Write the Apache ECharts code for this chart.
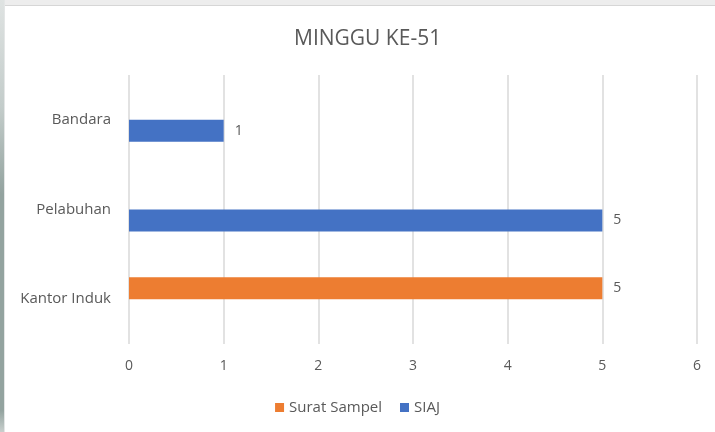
<!DOCTYPE html>
<html style="height: 100%">
	<head>
		<meta charset="utf-8">
		<style>
			body { margin: 0; background: #fff; }
			#container { position: absolute; left: 0; top: 0; width: 715px; height: 432px; }
			.strip-top { position: absolute; left: 0; top: 0; width: 715px; height: 5px; background: #ededed; border-bottom: 1px solid #d6d6d6; }
			.strip-left { position: absolute; left: 0; top: 0; width: 4px; height: 432px; background: linear-gradient(#dfe3e2, #c3ccca 25%, #93a39f 45%, #93a39f 95%, #c8cfcd); border-right: 1px solid #e4e6e6; }
		</style>
	</head>
	<body>
		<div id="container"></div>
		<div class="strip-top"></div>
		<div class="strip-left"></div>
		<script src="https://cdn.jsdelivr.net/npm/echarts@6/dist/echarts.min.js"></script>
		<script type="text/javascript">
			// data
			var categories = ['Kantor Induk', 'Pelabuhan', 'Bandara'];
			var suratSampel = [5, null, null];
			var siaj = [null, 5, 1];
			var xTicks = [0, 1, 2, 3, 4, 5, 6];

			var textColor = '#595959';
			var font = '"Open Sans", "Noto Sans", sans-serif';

			var myChart = echarts.init(document.getElementById('container'));
			var labelStyle = {
				show: true,
				position: 'right',
				distance: 11,
				color: textColor,
				fontSize: 14,
				fontFamily: font
			};

			var option = {
				backgroundColor: '#fff',
				animation: false,
				title: {
					text: 'MINGGU KE-51',
					left: 289,
					top: 24,
					textStyle: {
						color: textColor,
						fontSize: 21,
						fontWeight: 'normal',
						fontFamily: font
					}
				},
				legend: {
					bottom: 12,
					left: 'center',
					data: ['Surat Sampel', 'SIAJ'],
					itemWidth: 9,
					itemHeight: 9,
					itemGap: 18,
					icon: 'rect',
					textStyle: { color: textColor, fontSize: 15, fontFamily: font }
				},
				grid: { left: 129, right: 18, top: 75, bottom: 88 },
				xAxis: {
					type: 'value',
					min: xTicks[0],
					max: xTicks[xTicks.length - 1],
					interval: 1,
					axisLine: { show: false },
					axisTick: { show: false },
					axisLabel: { color: textColor, fontSize: 14, margin: 15, fontFamily: font },
					splitLine: { lineStyle: { color: '#d9d9d9', width: 1.5 } }
				},
				yAxis: {
					type: 'category',
					data: categories,
					axisLine: { show: false },
					axisTick: { show: false },
					axisLabel: { color: textColor, fontSize: 15, margin: 18, fontFamily: font }
				},
				series: [
					{
						name: 'Surat Sampel',
						type: 'bar',
						data: suratSampel,
						barWidth: 22,
						barGap: '0%',
						itemStyle: { color: '#ed7d31' },
						label: labelStyle
					},
					{
						name: 'SIAJ',
						type: 'bar',
						data: siaj,
						barWidth: 22,
						barGap: '0%',
						itemStyle: { color: '#4472c4' },
						label: labelStyle
					}
				]
			};
			myChart.setOption(option);
		</script>
	</body>
</html>
